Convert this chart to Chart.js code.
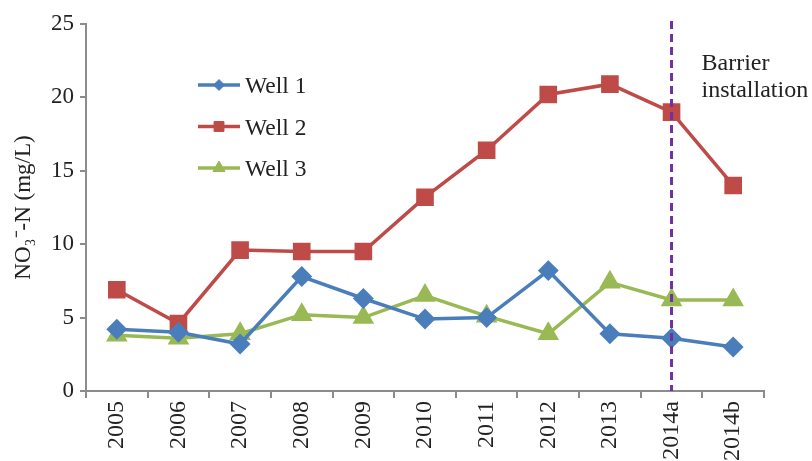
<!DOCTYPE html>
<html>
<head>
<meta charset="utf-8">
<script src="https://cdn.jsdelivr.net/npm/chart.js@4/dist/chart.umd.min.js"></script>
<style>
  html, body { margin: 0; padding: 0; background: #fff; }
  #wrap { width: 812px; height: 461px; }
</style>
</head>
<body>
<div id="wrap"><canvas id="chart"></canvas></div>
<script>
const years = ['2005', '2006', '2007', '2008', '2009', '2010', '2011', '2012', '2013', '2014a', '2014b'];
const well1 = [4.2, 4.0, 3.2, 7.8, 6.3, 4.9, 5.0, 8.2, 3.9, 3.6, 3.0];
const well2 = [6.9, 4.6, 9.6, 9.5, 9.5, 13.2, 16.4, 20.2, 20.9, 19.0, 14.0];
const well3 = [3.8, 3.6, 3.9, 5.2, 5.0, 6.5, 5.1, 3.9, 7.4, 6.2, 6.2];
const yTicks = [0, 5, 10, 15, 20, 25];
const barrierAt = '2014a';
const barrierText = ['Barrier', 'installation'];

const serif = '"Liberation Serif", "Times New Roman", serif';

// dashed barrier line + note
const barrierPlugin = {
  id: 'barrier',
  afterDatasetsDraw(chart) {
    const { ctx, chartArea, scales } = chart;
    const x = scales.x.getPixelForValue(years.indexOf(barrierAt));
    ctx.save();
    ctx.strokeStyle = '#7030A0';
    ctx.lineWidth = 3;
    ctx.setLineDash([8, 5]);
    ctx.beginPath();
    ctx.moveTo(x, chartArea.top - 3);
    ctx.lineTo(x, chartArea.bottom);
    ctx.stroke();
    ctx.setLineDash([]);
    ctx.fillStyle = '#222';
    ctx.font = '24px ' + serif;
    ctx.textBaseline = 'alphabetic';
    barrierText.forEach((t, i) => ctx.fillText(t, x + 30, 70 + i * 27));
    ctx.restore();
  }
};

// legend drawn inside the plot area
const legendSizes = [5.5, 7, 7];
const legendPlugin = {
  id: 'innerLegend',
  afterDraw(chart) {
    const { ctx } = chart;
    ctx.save();
    chart.data.datasets.forEach((ds, i) => {
      const y = 85 + i * 41.5;
      ctx.strokeStyle = ds.borderColor;
      ctx.lineWidth = 3.5;
      ctx.beginPath();
      ctx.moveTo(198, y);
      ctx.lineTo(240, y);
      ctx.stroke();
      ctx.fillStyle = ds.borderColor;
      ctx.lineWidth = 1;
      Chart.helpers.drawPoint(ctx, {
        pointStyle: ds.pointStyle,
        rotation: 0,
        borderWidth: 1,
        radius: legendSizes[i]
      }, 219, y);
      ctx.fillStyle = '#222';
      ctx.font = '23.5px ' + serif;
      ctx.textBaseline = 'alphabetic';
      ctx.fillText(ds.label, 245, y + 8);
    });
    ctx.restore();
  }
};

new Chart(document.getElementById('chart'), {
  type: 'line',
  data: {
    labels: years,
    datasets: [
      { label: 'Well 1', data: well1, borderColor: '#4A7EBB', backgroundColor: '#4A7EBB',
        pointStyle: 'rectRot', pointRadius: 8, borderWidth: 3.5 },
      { label: 'Well 2', data: well2, borderColor: '#BE4B48', backgroundColor: '#BE4B48',
        pointStyle: 'rect', pointRadius: 10, borderWidth: 3.5 },
      { label: 'Well 3', data: well3, borderColor: '#98B954', backgroundColor: '#98B954',
        pointStyle: 'triangle', pointRadius: 9, borderWidth: 3.5 }
    ]
  },
  options: {
    responsive: true,
    maintainAspectRatio: false,
    animation: false,
    layout: { padding: { top: 24, right: 48, left: 10, bottom: 0 } },
    plugins: {
      legend: { display: false },
      tooltip: { enabled: false }
    },
    scales: {
      x: {
        offset: true,
        grid: { display: true, offset: true, drawOnChartArea: false, drawTicks: true,
                tickLength: 7, color: '#8c8c8c', lineWidth: 2 },
        border: { color: '#8c8c8c', width: 2 },
        ticks: { color: '#222', font: { family: serif, size: 24 }, minRotation: 90, maxRotation: 90, padding: 3 },
        afterFit(scale) { scale.height = 70; }
      },
      y: {
        min: 0, max: 25,
        afterBuildTicks(scale) { scale.ticks = yTicks.map(v => ({ value: v })); },
        grid: { display: true, drawOnChartArea: false, drawTicks: true, tickLength: 6,
                color: '#8c8c8c', lineWidth: 2 },
        border: { color: '#8c8c8c', width: 2 },
        ticks: { color: '#222', font: { family: serif, size: 23 }, padding: 6 },
        title: { display: true, text: 'NO\u2083\u207B-N (mg/L)', color: '#222',
                 font: { family: serif, size: 23 }, padding: { top: 0, bottom: 4 } },
        afterFit(scale) { scale.width = 76; }
      }
    }
  },
  plugins: [barrierPlugin, legendPlugin]
});
</script>
</body>
</html>
